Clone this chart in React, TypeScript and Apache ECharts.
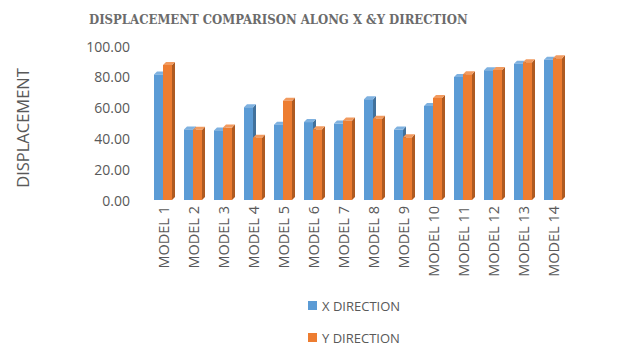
import React, { useEffect, useRef } from "react";
import * as echarts from "echarts";

const categories = [
  "MODEL 1", "MODEL 2", "MODEL 3", "MODEL 4", "MODEL 5", "MODEL 6", "MODEL 7",
  "MODEL 8", "MODEL 9", "MODEL 10", "MODEL 11", "MODEL 12", "MODEL 13", "MODEL 14",
];
const xDirection = [81.5, 45.8, 45.2, 60.2, 48.9, 50.6, 49.6, 65.4, 45.7, 61.0, 79.9, 84.2, 88.5, 91.1];
const yDirection = [87.6, 45.6, 47.0, 40.5, 64.4, 45.9, 51.6, 52.8, 40.7, 66.2, 81.6, 84.4, 89.4, 92.0];
const seriesNames = ["X DIRECTION", "Y DIRECTION"];

const FRONT = ["#5B9BD5", "#ED7D31"];
const SIDE = ["#41719C", "#AE5A21"];
const TOP = ["#7EB1E0", "#F29A5E"];

// Draws a pseudo-3D column: front face, right side face and top face.
function makeRenderItem(seriesIdx: number) {
  return (params: any, api: any) => {
    const idx = api.value(0);
    const val = api.value(1);
    const base = api.coord([idx, 0]);
    const top = api.coord([idx, val]);
    const band = api.size([1, 0])[0];
    const w = band * 0.3;
    const d = 3;
    const x0 = seriesIdx === 0 ? base[0] - w : base[0];
    const x1 = x0 + w;
    const yT = top[1];
    const yB = base[1];
    return {
      type: "group",
      children: [
        {
          type: "polygon",
          shape: { points: [[x1, yT], [x1 + d, yT - d], [x1 + d, yB - d], [x1, yB]] },
          style: { fill: SIDE[seriesIdx] },
        },
        {
          type: "polygon",
          shape: { points: [[x0, yT], [x0 + d, yT - d], [x1 + d, yT - d], [x1, yT]] },
          style: { fill: TOP[seriesIdx] },
        },
        {
          type: "rect",
          shape: { x: x0, y: yT, width: w, height: yB - yT },
          style: { fill: FRONT[seriesIdx] },
        },
      ],
    };
  };
}

const legendBase = {
  orient: "vertical",
  left: 303,
  itemWidth: 9,
  itemHeight: 9,
  icon: "rect",
  textStyle: { fontFamily: "Open Sans", fontSize: 13, color: "#595959" },
};

export default function App() {
  const ref = useRef<HTMLDivElement>(null);
  useEffect(() => {
    const chart = echarts.init(ref.current!, null, { renderer: "svg" });
    const makeSeries = (i: number, values: number[]) => ({
      type: "custom",
      name: seriesNames[i],
      data: values.map((v, k) => [k, v]),
      encode: { x: 0, y: 1 },
      itemStyle: { color: FRONT[i] },
      renderItem: makeRenderItem(i),
    });
    chart.setOption({
      animation: false,
      backgroundColor: "#ffffff",
      title: {
        text: "DISPLACEMENT COMPARISON ALONG X &Y DIRECTION",
        left: 84,
        top: 8,
        textStyle: {
          fontFamily: "DejaVu Serif Condensed",
          fontWeight: "bold",
          fontSize: 13,
          color: "#6b6b6b",
        },
      },
      grid: { left: 148, right: 57, top: 46, bottom: 147 },
      legend: [
        { ...legendBase, top: 294, data: [seriesNames[0]] },
        { ...legendBase, top: 326, data: [seriesNames[1]] },
      ],
      xAxis: {
        type: "category",
        data: categories,
        axisLine: { show: false },
        axisTick: { show: false },
        axisLabel: {
          rotate: 90,
          interval: 0,
          margin: 6,
          fontFamily: "Open Sans",
          fontSize: 14.5,
          color: "#595959",
        },
      },
      yAxis: {
        type: "value",
        min: 0,
        max: 100,
        interval: 20,
        name: "DISPLACEMENT",
        nameLocation: "middle",
        nameGap: 117,
        nameTextStyle: {
          fontFamily: "Open Sans",
          fontSize: 16.5,
          color: "#595959",
          padding: [0, 10, 0, 0],
        },
        splitLine: { show: false },
        axisLine: { show: false },
        axisTick: { show: false },
        axisLabel: {
          formatter: (v: number) => v.toFixed(2),
          margin: 18,
          fontFamily: "Open Sans",
          fontSize: 14,
          color: "#595959",
        },
      },
      series: [makeSeries(0, xDirection), makeSeries(1, yDirection)],
    });
    return () => chart.dispose();
  }, []);
  return (
    <div
      ref={ref}
      style={{ position: "fixed", left: 0, top: 0, width: 625, height: 347 }}
    />
  );
}
